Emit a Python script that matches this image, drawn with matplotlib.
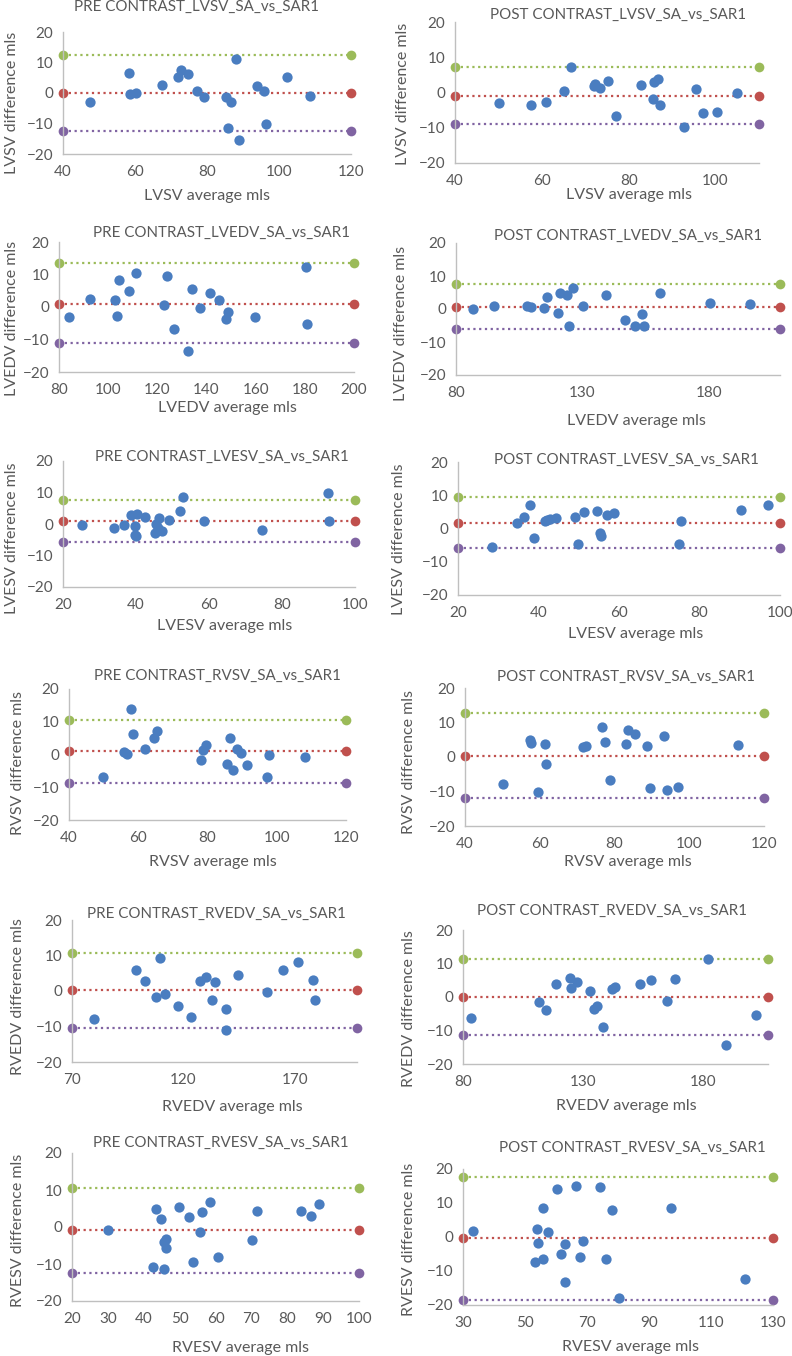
import matplotlib
matplotlib.use('Agg')
import matplotlib.pyplot as plt

plt.rcParams['font.family'] = ['Lato', 'DejaVu Sans']

# ---------------- data ----------------
pre_lvsv_avg = [47.4, 58.3, 58.5, 60.4, 67.4, 72.0, 72.8, 74.8, 77.1, 79.1, 85.4, 85.8, 86.8, 88.0, 88.8, 93.9, 95.9, 96.3, 102.2, 108.6]
pre_lvsv_diff = [-2.8, 6.4, -0.4, -0.1, 2.6, 5.1, 7.5, 6.2, 0.8, -1.2, -1.2, -11.5, -3.0, 11.2, -15.4, 2.3, 0.8, -10.1, 5.1, -0.9]
pre_lvsv_loa = [12.6, 0.0, -12.4]

post_lvsv_avg = [50.2, 57.4, 60.9, 65.0, 66.7, 72.0, 72.3, 73.5, 75.2, 77.1, 82.8, 85.7, 85.8, 86.7, 87.2, 92.7, 95.5, 97.2, 100.4, 104.9]
post_lvsv_diff = [-3.1, -3.6, -2.6, 0.5, 7.3, 1.8, 2.3, 1.4, 3.4, -6.7, 2.1, -1.9, 2.9, 3.7, -3.6, -9.9, 1.1, -5.8, -5.5, 0.0]
post_lvsv_loa = [7.1, -0.9, -9.0]

pre_lvedv_avg = [84.1, 92.5, 102.6, 103.7, 104.3, 108.5, 111.5, 122.6, 124.1, 126.6, 132.6, 134.0, 137.5, 141.6, 144.9, 148.1, 148.9, 159.6, 180.6, 180.9]
pre_lvedv_diff = [-3.1, 2.4, 2.3, -2.9, 8.2, 4.9, 10.5, 0.7, 9.4, -6.9, -13.5, 5.5, -0.3, 4.4, 2.1, -3.8, -1.5, -3.2, 12.3, -5.3]
pre_lvedv_loa = [13.5, 1.0, -11.2]

post_lvedv_avg = [86.7, 95.2, 108.2, 109.5, 114.9, 116.1, 120.1, 121.0, 124.0, 124.5, 126.4, 130.3, 139.2, 146.8, 150.8, 153.4, 154.2, 160.5, 180.3, 196.1]
post_lvedv_diff = [0.0, 1.0, 1.0, 0.7, 0.2, 3.7, -1.3, 4.9, 4.2, -5.0, 6.5, 0.9, 4.1, -3.3, -5.3, -1.6, -5.3, 5.0, 1.9, 1.4]
post_lvedv_loa = [7.5, 0.7, -6.1]

pre_lvesv_avg = [25.3, 34.0, 36.6, 38.5, 39.6, 40.0, 39.7, 40.4, 42.6, 45.3, 45.6, 46.3, 46.1, 47.2, 49.1, 52.0, 52.9, 58.7, 74.4, 92.5, 92.8]
pre_lvesv_diff = [-0.3, -1.4, -0.2, 3.0, -3.5, -3.9, -0.7, 3.2, 2.1, -2.7, 0.0, 1.8, -1.4, -2.1, 1.3, 4.2, 8.5, 1.1, -1.9, 9.9, 1.1]
pre_lvesv_loa = [7.7, 0.8, -5.8]

post_lvesv_avg = [28.5, 34.7, 36.5, 37.8, 39.0, 41.5, 42.1, 42.9, 44.4, 49.1, 49.8, 51.2, 54.5, 55.4, 55.5, 56.9, 58.8, 75.0, 75.5, 90.4, 96.9]
post_lvesv_diff = [-5.7, 1.6, 3.4, 7.1, -2.9, 2.2, 2.6, 2.9, 3.3, 3.6, -4.8, 4.9, 5.2, -1.4, -2.3, 4.1, 4.7, -4.8, 2.4, 5.6, 7.1]
post_lvesv_loa = [9.6, 1.7, -6.0]

pre_rvsv_avg = [49.8, 55.9, 56.8, 57.8, 58.5, 61.9, 64.5, 65.4, 78.1, 78.7, 79.7, 85.5, 86.5, 87.4, 88.4, 89.8, 91.3, 97.1, 97.8, 108.1]
pre_rvsv_diff = [-6.9, 0.9, 0.2, 13.9, 6.2, 1.6, 5.0, 7.2, -1.6, 1.4, 3.0, -3.0, 5.0, -4.7, 1.6, 0.4, -3.2, -6.9, -0.3, -0.8]
pre_rvsv_loa = [10.4, 1.0, -8.6]

post_rvsv_avg = [50.2, 57.3, 57.6, 59.5, 61.4, 61.7, 71.6, 72.3, 76.6, 77.5, 78.7, 83.0, 83.6, 85.5, 88.8, 89.4, 93.3, 94.1, 96.9, 113.1]
post_rvsv_diff = [-7.7, 4.9, 4.0, -10.0, 3.7, -1.9, 3.0, 3.2, 8.7, 4.4, -6.7, 3.8, 7.8, 6.8, 3.3, -9.1, 6.1, -9.6, -8.7, 3.6]
post_rvsv_loa = [12.8, 0.3, -11.8]

pre_rvedv_avg = [79.9, 98.9, 102.6, 107.6, 109.4, 111.8, 117.6, 123.3, 127.3, 130.3, 132.7, 134.2, 139.0, 139.3, 144.7, 157.6, 164.9, 171.5, 178.2, 179.0]
pre_rvedv_diff = [-8.0, 5.8, 2.8, -1.7, 9.4, -0.9, -4.2, -7.2, 2.8, 4.0, -2.5, 2.5, -5.2, -11.1, 4.6, -0.2, 5.8, 8.2, 3.0, -2.5]
pre_rvedv_loa = [10.7, 0.2, -10.5]

post_rvedv_avg = [83.2, 111.8, 114.7, 118.6, 124.4, 124.8, 127.4, 132.7, 134.6, 136.0, 138.1, 142.2, 143.4, 153.7, 158.3, 164.8, 168.1, 182.1, 189.7, 202.1]
post_rvedv_diff = [-6.3, -1.5, -3.8, 3.9, 5.7, 2.7, 4.4, 1.9, -3.6, -2.8, -8.9, 2.5, 3.0, 3.9, 5.2, -1.3, 5.5, 11.4, -14.4, -5.3]
post_rvedv_loa = [11.4, 0.0, -11.4]

pre_rvesv_avg = [30.0, 42.6, 43.5, 44.7, 45.7, 45.6, 46.2, 46.3, 49.8, 53.8, 52.7, 55.6, 56.3, 58.4, 60.7, 70.2, 71.6, 83.7, 86.6, 88.8]
pre_rvesv_diff = [-0.8, -10.9, 4.9, 2.1, -4.1, -11.4, -5.8, -3.3, 5.5, -9.5, 2.6, -1.3, 4.1, 6.7, -8.2, -3.6, 4.4, 4.4, 3.0, 6.2]
pre_rvesv_loa = [10.6, -0.8, -12.3]

post_rvesv_avg = [33.2, 53.1, 53.9, 54.2, 55.8, 55.8, 57.4, 60.3, 61.7, 62.8, 62.8, 66.6, 67.8, 68.7, 74.1, 76.2, 78.2, 80.3, 97.0, 120.9]
post_rvesv_diff = [1.7, -7.3, 2.4, -1.8, -6.5, 8.5, 1.6, 14.2, -4.9, -2.1, -13.1, 15.1, -6.0, -1.1, 14.8, -6.4, 7.9, -17.8, 8.4, -12.3]
post_rvesv_loa = [17.6, -0.4, -18.4]

titles = ["PRE CONTRAST_LVSV_SA_vs_SAR1", "POST CONTRAST_LVSV_SA_vs_SAR1",
          "PRE CONTRAST_LVEDV_SA_vs_SAR1", "POST CONTRAST_LVEDV_SA_vs_SAR1",
          "PRE CONTRAST_LVESV_SA_vs_SAR1", "POST CONTRAST_LVESV_SA_vs_SAR1",
          "PRE CONTRAST_RVSV_SA_vs_SAR1", "POST CONTRAST_RVSV_SA_vs_SAR1",
          "PRE CONTRAST_RVEDV_SA_vs_SAR1", "POST CONTRAST_RVEDV_SA_vs_SAR1",
          "PRE CONTRAST_RVESV_SA_vs_SAR1", "POST CONTRAST_RVESV_SA_vs_SAR1"]
measures = ["LVSV", "LVSV", "LVEDV", "LVEDV", "LVESV", "LVESV",
            "RVSV", "RVSV", "RVEDV", "RVEDV", "RVESV", "RVESV"]
x_limits = [(40, 120), (40, 110), (80, 200), (80, 208), (20, 100), (20, 100),
            (40, 120), (40, 120), (70, 198), (80, 207), (20, 100), (30, 130)]
x_ticks = [[40, 60, 80, 100, 120], [40, 60, 80, 100], [80, 100, 120, 140, 160, 180, 200],
           [80, 130, 180], [20, 40, 60, 80, 100], [20, 40, 60, 80, 100],
           [40, 60, 80, 100, 120], [40, 60, 80, 100, 120], [70, 120, 170],
           [80, 130, 180], [20, 30, 40, 50, 60, 70, 80, 90, 100], [30, 50, 70, 90, 110, 130]]
y_ticks = [-20, -10, 0, 10, 20]

series = [(pre_lvsv_avg, pre_lvsv_diff, pre_lvsv_loa), (post_lvsv_avg, post_lvsv_diff, post_lvsv_loa),
          (pre_lvedv_avg, pre_lvedv_diff, pre_lvedv_loa), (post_lvedv_avg, post_lvedv_diff, post_lvedv_loa),
          (pre_lvesv_avg, pre_lvesv_diff, pre_lvesv_loa), (post_lvesv_avg, post_lvesv_diff, post_lvesv_loa),
          (pre_rvsv_avg, pre_rvsv_diff, pre_rvsv_loa), (post_rvsv_avg, post_rvsv_diff, post_rvsv_loa),
          (pre_rvedv_avg, pre_rvedv_diff, pre_rvedv_loa), (post_rvedv_avg, post_rvedv_diff, post_rvedv_loa),
          (pre_rvesv_avg, pre_rvesv_diff, pre_rvesv_loa), (post_rvesv_avg, post_rvesv_diff, post_rvesv_loa)]

# ---------------- layout (pixels) ----------------
W, H = 792, 1356
# axes: left, right, top, bottom
rects = [(63, 351, 32, 154), (455, 759, 22, 163),
         (59, 354, 242, 372), (456, 780, 243, 375),
         (63, 355, 461, 587), (458, 780, 462, 595),
         (69, 346, 689, 820), (465, 764, 688, 826),
         (72, 357, 920, 1062), (463, 768, 930, 1064),
         (72, 359, 1153, 1301), (463, 773, 1169, 1305)]
title_pos = [(197, 7), (618, 15), (222, 233), (628, 236), (222, 457), (626, 460),
             (217, 676), (626, 677), (216, 914), (612, 911), (221, 1143), (632, 1148)]
xlabel_pos = [(207, 196), (629, 195), (227, 408), (636, 421), (225, 626), (636, 634),
              (213, 862), (628, 862), (232, 1107), (626, 1106), (240, 1348), (631, 1347)]
ylabel_pos = [(12, 103), (403, 94), (12, 318), (401, 323), (12, 538), (399, 539),
              (18, 763), (409, 762), (18, 997), (409, 1009), (18, 1230), (409, 1239)]

BLUE = '#4A7DC0'
LOA_COLORS = ['#9BBB59', '#C0504D', '#8064A2']
TXT = '#595959'
AXC = '#BFBFBF'

fig = plt.figure(figsize=(W / 100, H / 100), dpi=100)

def fx(px):
    return px / W

def fy(py):
    return 1 - py / H

for i in range(12):
    l, r, t, b = rects[i]
    ax = fig.add_axes([fx(l), fy(b), (r - l) / W, (b - t) / H])
    avg, diff, loa = series[i]
    x0, x1 = x_limits[i]
    for val, col in zip(loa, LOA_COLORS):
        ax.plot([x0, x1], [val, val], linestyle=(0, (1, 1.6)), color=col, lw=1.6,
                marker='o', markersize=7, markeredgewidth=0, clip_on=False, zorder=2)
    ax.plot(avg, diff, 'o', color=BLUE, markersize=7.4, markeredgewidth=0, clip_on=False, zorder=3)
    ax.set_xlim(x0, x1)
    ax.set_ylim(-20, 20)
    ax.set_xticks(x_ticks[i])
    ax.set_yticks(y_ticks)
    ax.tick_params(length=0, labelsize=11, colors=TXT)
    ax.tick_params(axis='x', pad=8)
    ax.tick_params(axis='y', pad=7)
    for s in ['top', 'right']:
        ax.spines[s].set_visible(False)
    for s in ['left', 'bottom']:
        ax.spines[s].set_color(AXC)
        ax.spines[s].set_linewidth(1.0)
    ax.set_facecolor('none')
    tx, ty = title_pos[i]
    fig.text(fx(tx), fy(ty), titles[i], ha='center', va='center', fontsize=10.9, color=TXT)
    lx, ly = xlabel_pos[i]
    fig.text(fx(lx), fy(ly), measures[i] + " average mls", ha='center', va='center', fontsize=11.5, color=TXT)
    yx, yy = ylabel_pos[i]
    fig.text(fx(yx), fy(yy), measures[i] + " difference mls", ha='center', va='center',
             rotation=90, fontsize=11.5, color=TXT)

fig.savefig('out.png', dpi=100, facecolor='white')
